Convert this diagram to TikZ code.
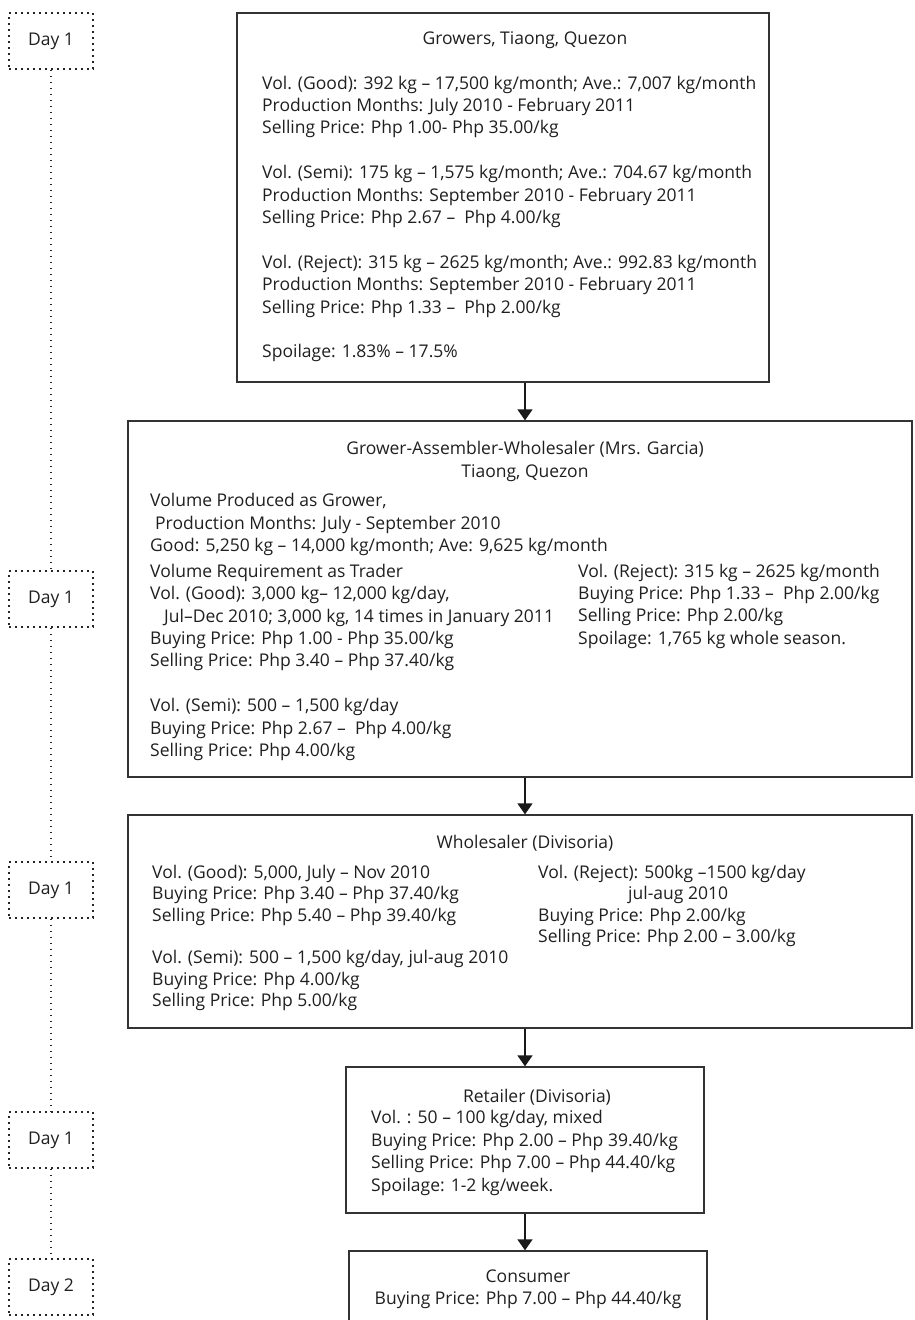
\documentclass[tikz,border=0pt]{standalone}
\usepackage{fontspec}
\setmainfont{Open Sans}
\usetikzlibrary{arrows.meta, positioning}
\tikzset{
  box/.style={rectangle, draw=black!80, line width=1.3pt, inner sep=0pt},
  daybox/.style={rectangle, draw=black!85, line width=1.6pt, dash pattern=on 1.6pt off 4.4pt, minimum width=84pt, minimum height=56pt, inner sep=0pt, text=black!88, font=\fontsize{17.5}{22.4}\selectfont},
  dayline/.style={draw=black!85, line width=1.6pt, dash pattern=on 1.6pt off 4.4pt},
  arrow/.style={line width=1.5pt, draw=black!90, -{Triangle[length=11pt,width=15pt]}},
  txt/.style={inner sep=0pt, anchor=west, align=left, text=black!88, font=\fontsize{17.5}{22.4}\selectfont},
  tighttxt/.style={txt, font=\fontsize{17.5}{21.3}\selectfont},
  ttl/.style={txt, anchor=center, align=center}
}

\begin{document}
\begin{tikzpicture}[x=1pt, y=1pt]
    \useasboundingbox (0,0) rectangle (914,-1320);

    % Days
    \node (d1) [daybox] at (51,-41) {Day 1};
    \node (d2) [daybox] at (51,-599) {Day 1};
    \node (d3) [daybox] at (51,-890) {Day 1};
    \node (d4) [daybox] at (51,-1140) {Day 1};
    \node (d5) [daybox] at (51,-1287) {Day 2};

    \draw [dayline] (d1) -- (d2);
    \draw [dayline] (d2) -- (d3);
    \draw [dayline] (d3) -- (d4);
    \draw [dayline] (d4) -- (d5);

    % Boxes
    \node (growers) [box, minimum width=532, minimum height=369] at (503,-197.5) {};
    \node (assembler) [box, minimum width=784, minimum height=356] at (520,-599) {};
    \node (wholesaler) [box, minimum width=784, minimum height=213] at (520,-921.5) {};
    \node (retailer) [box, minimum width=358, minimum height=146] at (525,-1140) {};
    \node (consumer) [box, minimum width=358, minimum height=100] at (528,-1301) {};

    % Growers
    \node (growtitle) [ttl] at (525,-40) {Growers, Tiaong, Quezon};
    \node (growinfo) [txt] at (262,-219)
    {Vol. (Good): 392 kg – 17,500 kg/month; Ave.: 7,007 kg/month\\
     Production Months: July 2010 - February 2011\\
     Selling Price: Php 1.00- Php 35.00/kg\\[22.4pt]
     Vol. (Semi): 175 kg – 1,575 kg/month; Ave.: 704.67 kg/month\\
     Production Months: September 2010 - February 2011\\
     Selling Price: Php 2.67 –~ Php 4.00/kg\\[22.4pt]
     Vol. (Reject): 315 kg – 2625 kg/month; Ave.: 992.83 kg/month\\
     Production Months: September 2010 - February 2011\\
     Selling Price: Php 1.33 –~ Php 2.00/kg\\[22.4pt]
     Spoilage: 1.83\% – 17.5\%};

    % Grower-assembler-wholesaler
    \node (asmtitle) [ttl] at (525,-461.5)
    {Grower-Assembler-Wholesaler (Mrs. Garcia)\\ Tiaong, Quezon};
    \node (asmgrow) [txt] at (150,-524.5)
    {Volume Produced as Grower,\\
     \hspace*{5pt}Production Months: July - September 2010\\
     Good: 5,250 kg – 14,000 kg/month; Ave: 9,625 kg/month};
    \node (asmtrade) [txt] at (150,-662.3)
    {Volume Requirement as Trader\\
     Vol. (Good): 3,000 kg– 12,000 kg/day,\\
     \hspace*{14pt}Jul–Dec 2010; 3,000 kg, 14 times in January 2011\\
     Buying Price: Php 1.00 - Php 35.00/kg\\
     Selling Price: Php 3.40 – Php 37.40/kg\\[22.4pt]
     Vol. (Semi): 500 – 1,500 kg/day\\
     Buying Price: Php 2.67 –~ Php 4.00/kg\\
     Selling Price: Php 4.00/kg};
    \node (asmreject) [txt] at (578,-606.2)
    {Vol. (Reject): 315 kg – 2625 kg/month\\
     Buying Price: Php 1.33 –~ Php 2.00/kg\\
     Selling Price: Php 2.00/kg\\
     Spoilage: 1,765 kg whole season.};

    % Wholesaler
    \node (whtitle) [ttl] at (525,-843) {Wholesaler (Divisoria)};
    \node (whgood) [tighttxt] at (152,-937.9)
    {Vol. (Good): 5,000, July – Nov 2010\\
     Buying Price: Php 3.40 – Php 37.40/kg\\
     Selling Price: Php 5.40 – Php 39.40/kg\\[21.3pt]
     Vol. (Semi): 500 – 1,500 kg/day, jul-aug 2010\\
     Buying Price: Php 4.00/kg\\
     Selling Price: Php 5.00/kg};
    \node (whreject) [tighttxt] at (538,-906)
    {Vol. (Reject): 500kg –1500 kg/day\\
     \hspace*{90pt}jul-aug 2010\\
     Buying Price: Php 2.00/kg\\
     Selling Price: Php 2.00 – 3.00/kg};

    % Retailer
    \node (rettitle) [ttl] at (537,-1097) {Retailer (Divisoria)};
    \node (retinfo) [txt] at (371,-1153)
    {Vol. : 50 – 100 kg/day, mixed\\
     Buying Price: Php 2.00 – Php 39.40/kg\\
     Selling Price: Php 7.00 – Php 44.40/kg\\
     Spoilage: 1-2 kg/week.};

    % Consumer
    \node (contxt) [ttl] at (528,-1289)
    {Consumer\\ Buying Price: Php 7.00 – Php 44.40/kg};

    % Arrows
    \draw [arrow] (growers.south -| retailer) -- (assembler.north -| retailer);
    \draw [arrow] (assembler.south -| retailer) -- (wholesaler.north -| retailer);
    \draw [arrow] (wholesaler.south -| retailer) -- (retailer.north);
    \draw [arrow] (retailer.south) -- (consumer.north -| retailer);

\end{tikzpicture}
\end{document}
